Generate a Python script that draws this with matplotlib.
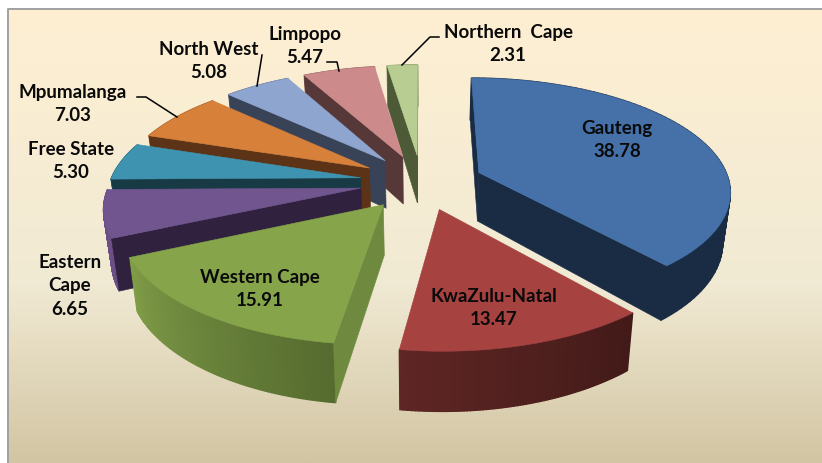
import numpy as np
import matplotlib
matplotlib.use("Agg")
import matplotlib.pyplot as plt
from matplotlib.colors import LinearSegmentedColormap, to_rgb
from matplotlib.patches import Polygon

plt.rcParams['font.family'] = ['Lato', 'DejaVu Sans']

# dados
provincias = ["Gauteng", "KwaZulu-Natal", "Western Cape", "Eastern\nCape", "Free State",
              "Mpumalanga", "North West", "Limpopo", "Northern  Cape"]
valores = [38.78, 13.47, 15.91, 6.65, 5.30, 7.03, 5.08, 5.47, 2.31]

# cores: topo, parede lateral, parede externa (inicio, fim)
cor_topo = ["#4570A8", "#A64240", "#86A44A", "#71558E", "#3E94B0", "#D6803A", "#8EA5CF", "#CC8B8A", "#B8CD91"]
cor_lado = ["#1A2C44", "#5A2423", "#6F8A3E", "#30223F", "#173A45", "#5C3316", "#394358", "#563838", "#4D5A38"]
cor_fora_ini = ["#1A2C44", "#421A18", "#556B2F", "#6B4F85", "#2F7488", "#A8632C", "#6F82A3", "#A06D6C", "#90A071"]
cor_fora_fim = ["#1A2C44", "#5E2624", "#7F9C47", "#6B4F85", "#2F7488", "#A8632C", "#6F82A3", "#A06D6C", "#90A071"]

# posicao dos textos (centro, em pixels)
pos_texto = [(617, 140), (494, 308), (260, 289), (70, 286), (71, 161), (73, 104), (209, 61), (305, 46), (508, 44)]

# linhas de chamada
linhas = [
    [(262, 55), (257, 86)],
    [(327, 62), (337, 62), (339, 71)],
    [(137, 97), (146, 97), (177, 117)],
    [(439, 37), (430, 37), (402, 65)],
]

# projecao
CX, CY = 421.5, 182
A, B, P = 250.5, 111.4, 0.15
EXPLODE = 0.247
ALTURA = 49
ENCOLHE = 0.975


def projetar(u, v, baixo=False):
    w = 1 + P * v
    x = CX + A * u / w
    y = CY - B * v / w
    if baixo:
        x = CX + (x - CX) * ENCOLHE
        y = y + ALTURA / w
    return np.array([x, y])


def pt(ang, raio, meio, baixo=False):
    u = raio * np.sin(ang) + EXPLODE * np.sin(meio)
    v = raio * np.cos(ang) + EXPLODE * np.cos(meio)
    return projetar(u, v, baixo)


def area(pts):
    # area com sinal, diz para que lado a parede esta virada
    s = 0
    for j in range(len(pts)):
        p, q = pts[j], pts[(j + 1) % len(pts)]
        s += p[0] * q[1] - q[0] * p[1]
    return s


fig = plt.figure(figsize=(8.22, 4.63), dpi=100)
ax = fig.add_axes([0, 0, 1, 1])
ax.set_xlim(0, 822)
ax.set_ylim(463, 0)
ax.axis("off")

# fundo degrade
cmap = LinearSegmentedColormap.from_list("fundo", [(0, "#FEEFD2"), (0.6, "#F1EAD4"), (1, "#D2C5A3")])
ax.imshow(np.linspace(0, 1, 256).reshape(-1, 1), cmap=cmap, extent=(8, 822, 463, 9), aspect="auto", zorder=0)
ax.set_xlim(0, 822)
ax.set_ylim(463, 0)
ax.plot([8, 8, 822], [463, 9, 9], color="#A0A0A0", lw=1.4, zorder=1)

fracao = np.array(valores) / sum(valores) * 2 * np.pi
fim = np.cumsum(fracao)
ini = fim - fracao

# ordem de tras para frente
ordem = [8, 7, 6, 5, 0, 4, 3, 2, 1]
z = 2
for i in ordem:
    a1, a2 = ini[i], fim[i]
    meio = (a1 + a2) / 2
    angs = np.linspace(a1, a2, 80)
    rim = [pt(a, 1, meio) for a in angs]
    rim_b = [pt(a, 1, meio, True) for a in angs]
    topo_c = pt(0, 0, meio)
    baixo_c = pt(0, 0, meio, True)

    # parede externa (primeiro, as radiais ficam por cima)
    c1, c2 = np.array(to_rgb(cor_fora_ini[i])), np.array(to_rgb(cor_fora_fim[i]))
    for k in range(len(angs) - 1):
        t = k / (len(angs) - 2)
        c = c1 + (c2 - c1) * t
        ax.add_patch(Polygon([rim[k], rim[k + 1], rim_b[k + 1], rim_b[k]], fc=c, ec=c, lw=1.0, zorder=z))
    # paredes radiais, so a que esta virada para a frente
    for k, sinal in ((0, -1), (-1, 1)):
        quad = [topo_c, rim[k], rim_b[k], baixo_c]
        if area(quad) * sinal > 0:
            ax.add_patch(Polygon(quad, fc=cor_lado[i], ec=cor_lado[i], lw=0.4, zorder=z + 0.2))
    # topo
    ax.add_patch(Polygon([topo_c] + rim, fc=cor_topo[i], ec=cor_topo[i], lw=0.4, zorder=z + 0.5))
    z += 1

# textos
for nome, val, (x, y) in zip(provincias, valores, pos_texto):
    ax.text(x, y, f"{nome}\n{val:.2f}", ha="center", va="center", fontsize=13.5, fontweight="bold",
            color="#0A0A0A", linespacing=1.45, zorder=50)

for ln in linhas:
    xs, ys = zip(*ln)
    ax.plot(xs, ys, color="black", lw=1.1, zorder=40)

fig.savefig("out.png", dpi=100)
